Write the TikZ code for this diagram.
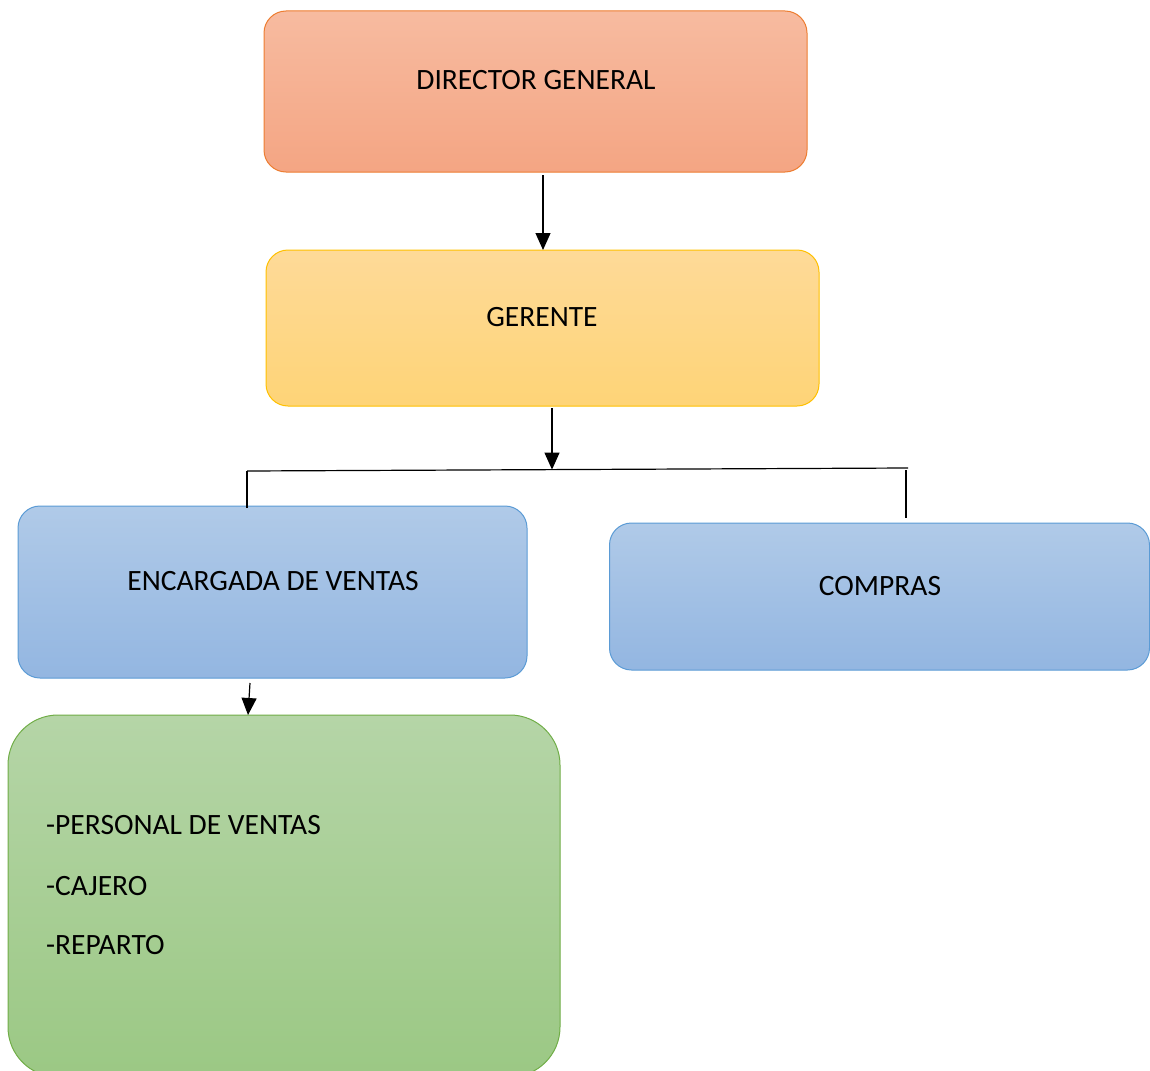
\documentclass[tikz,border=0pt]{standalone}
\usepackage{fontspec}
\setmainfont{Carlito}
\usetikzlibrary{arrows.meta}
\begin{document}
\begin{tikzpicture}[x=1pt,y=-1pt,
  box/.style={draw, line width=1pt, rounded corners=22pt, inner sep=0pt},
  lbl/.style={font=\fontsize{29.5}{35}\selectfont, inner sep=0pt, anchor=center},
  arr/.style={line width=1.2pt, -{Triangle[length=17pt,width=15pt]}},
  conn/.style={line width=1.2pt}]
\useasboundingbox (0,0) rectangle (1150,1070);
\definecolor{orb}{HTML}{ED7D31}\definecolor{ort}{HTML}{F7BBA0}\definecolor{orbt}{HTML}{F4A583}
\definecolor{yeb}{HTML}{FFC000}\definecolor{yet}{HTML}{FEDA98}\definecolor{yebt}{HTML}{FED477}
\definecolor{blb}{HTML}{5B9BD5}\definecolor{blt}{HTML}{B0CAE8}\definecolor{blbt}{HTML}{93B6E1}
\definecolor{grb}{HTML}{70AD47}\definecolor{grt}{HTML}{B5D5A7}\definecolor{grbt}{HTML}{9BC884}

\node[box, draw=orb, top color=ort, bottom color=orbt, minimum width=543pt, minimum height=161pt] (dir) at (535.5,91.5) {};
\node[lbl] (dirt) at (536,80) {DIRECTOR GENERAL};

\node[box, draw=yeb, top color=yet, bottom color=yebt, minimum width=553pt, minimum height=156pt] (ger) at (542.5,328) {};
\node[lbl] (gert) at (542,317) {GERENTE};

\node[box, draw=blb, top color=blt, bottom color=blbt, minimum width=509pt, minimum height=172pt] (enc) at (272.5,592) {};
\node[lbl] (enct) at (273,581) {ENCARGADA DE VENTAS};

\node[box, draw=blb, top color=blt, bottom color=blbt, minimum width=540pt, minimum height=147pt] (com) at (879.5,596.5) {};
\node[lbl] (comt) at (880,586) {COMPRAS};

\node[box, rounded corners=50pt, draw=grb, top color=grt, bottom color=grbt, minimum width=552pt, minimum height=362pt] (grn) at (284,896) {};
\node[lbl, anchor=west] (l1) at (46,825) {-PERSONAL DE VENTAS};
\node[lbl, anchor=west] (l2) at (46,886) {-CAJERO};
\node[lbl, anchor=west] (l3) at (46,945) {-REPARTO};

\coordinate (a1) at (543,175);
\draw[arr] (a1) -- (543,250);
\coordinate (a2) at (552,408);
\coordinate (hl) at (247,471);
\coordinate (hr) at (908,468);
\coordinate (hm) at (552,469.6);
\draw[arr] (a2) -- (hm);
\draw[conn] (hl) -- (hr);
\draw[conn] (hl) -- (247,508);
\draw[conn] (906,470) -- (906,518);
\coordinate (e1) at (250,683);
\draw[arr] (e1) -- (248,715);
\end{tikzpicture}
\end{document}
